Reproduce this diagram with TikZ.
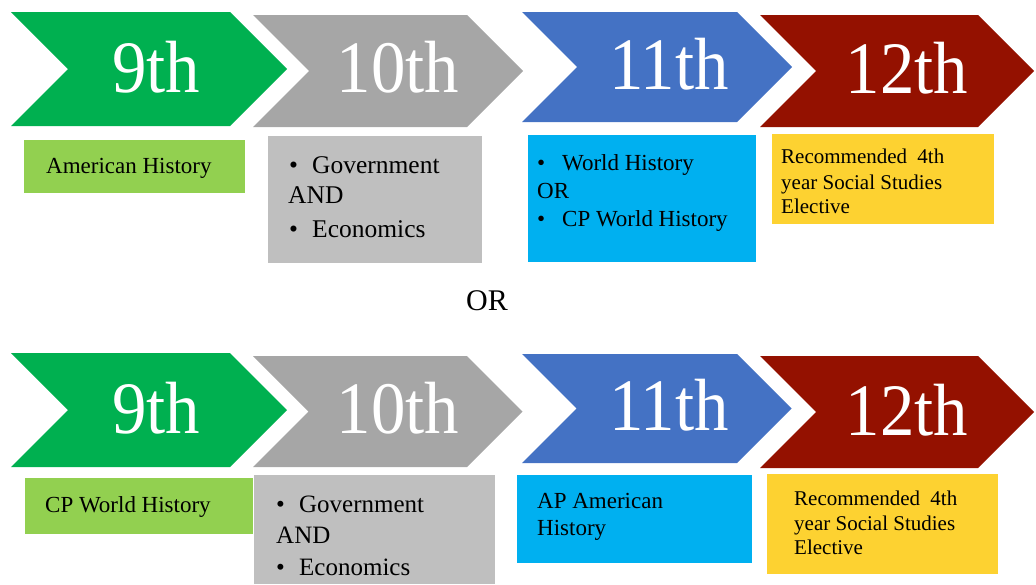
\documentclass[tikz,border=0pt]{standalone}
\usepackage{fontspec}
\setmainfont{Liberation Serif}
\newfontfamily\tms{Liberation Serif}
\definecolor{cgreen}{HTML}{00B050}
\definecolor{cgray}{HTML}{A6A6A6}
\definecolor{cblue}{HTML}{4472C4}
\definecolor{cred}{HTML}{941100}
\definecolor{bgreen}{HTML}{92D050}
\definecolor{bgray}{HTML}{BFBFBF}
\definecolor{bblue}{HTML}{00B0F0}
\definecolor{byellow}{HTML}{FDD231}
\newcommand{\chevron}[6]{% name, left, top, bottom, topright, colour
  \fill[#6] (#2,#3) -- (#5,#3) -- ({#5+(#4-#3)/2},{(#3+#4)/2}) -- (#5,#4) -- (#2,#4) -- ({#2+(#4-#3)/2},{(#3+#4)/2}) -- cycle;
}
\newcommand{\bul}{\makebox[23pt][l]{\textbullet}}
\tikzset{
  grade/.style={anchor=base, text=white, inner sep=0pt, font=\tms\fontsize{74}{74}\selectfont},
  boxtext/.style={anchor=base west, inner sep=0pt, text=black},
}
\begin{document}
\begin{tikzpicture}[x=1pt,y=-1pt]
\useasboundingbox (0,0) rectangle (1036,584);
% ---------- top row chevrons
\chevron{g1}{11}{12}{126}{230}{cgreen}
\chevron{g2}{253}{15}{127}{467}{cgray}
\chevron{g3}{522}{12}{122}{737}{cblue}
\chevron{g4}{760}{15}{127}{978}{cred}
\node[grade] (t9) at (156,92) {\scalebox{0.93}[1]{9th}};
\node[grade] (t10) at (398,92) {\scalebox{0.93}[1]{10th}};
\node[grade] (t11) at (669,89) {\scalebox{0.93}[1]{11th}};
\node[grade] (t12) at (907,93) {\scalebox{0.93}[1]{12th}};
% ---------- top row boxes
\fill[bgreen] (24,140) rectangle (245,193);
\fill[bgray] (268,136) rectangle (482,263);
\fill[bblue] (528,135) rectangle (756,262);
\fill[byellow] (772,134) rectangle (994,224);
\begin{scope}[every node/.style={boxtext, font=\tms\fontsize{23}{28}\selectfont}]
\node (a1) at (46,173) {American History};
\end{scope}
\begin{scope}[every node/.style={boxtext, font=\tms\fontsize{25.5}{30}\selectfont}]
\node (a2) at (289,173) {\bul Government};
\node (a3) at (288,203) {AND};
\node (a4) at (289,237) {\bul Economics};
\end{scope}
\begin{scope}[every node/.style={boxtext, font=\tms\fontsize{23}{28}\selectfont}]
\node (b1) at (537,170) {\makebox[25pt][l]{\textbullet}World History};
\node (b2) at (537,198) {OR};
\node (b3) at (537,226) {\makebox[25pt][l]{\textbullet}CP World History};
\end{scope}
\begin{scope}[every node/.style={boxtext, font=\tms\fontsize{21}{24}\selectfont}]
\node (c1) at (781,163) {Recommended\hspace{5pt} 4th};
\node (c2) at (781,189) {year Social Studies};
\node (c3) at (781,213) {Elective};
\end{scope}
% ---------- OR
\node[boxtext, font=\tms\fontsize{30}{34}\selectfont] (or) at (466,310) {OR};
% ---------- bottom row chevrons
\chevron{h1}{11}{353}{467}{230}{cgreen}
\chevron{h2}{253}{356}{467}{467}{cgray}
\chevron{h3}{522}{354}{463}{737}{cblue}
\chevron{h4}{760}{356}{468}{978}{cred}
\node[grade] (u9) at (156,433) {\scalebox{0.93}[1]{9th}};
\node[grade] (u10) at (398,433) {\scalebox{0.93}[1]{10th}};
\node[grade] (u11) at (669,430) {\scalebox{0.93}[1]{11th}};
\node[grade] (u12) at (907,435) {\scalebox{0.93}[1]{12th}};
% ---------- bottom row boxes
\fill[bgreen] (25,478) rectangle (253,534);
\fill[bgray] (254,475) rectangle (495,584);
\fill[bblue] (517,475) rectangle (752,563);
\fill[byellow] (767,474) rectangle (998,574);
\begin{scope}[every node/.style={boxtext, font=\tms\fontsize{23}{28}\selectfont}]
\node (d1) at (45,512) {CP World History};
\node (e1) at (537,508) {AP American};
\node (e2) at (537,535) {History};
\end{scope}
\begin{scope}[every node/.style={boxtext, font=\tms\fontsize{25}{30}\selectfont}]
\node (d2) at (276,512) {\bul Government};
\node (d3) at (276,543) {AND};
\node (d4) at (276,575) {\bul Economics};
\end{scope}
\begin{scope}[every node/.style={boxtext, font=\tms\fontsize{21}{24}\selectfont}]
\node (f1) at (794,505) {Recommended\hspace{5pt} 4th};
\node (f2) at (794,530) {year Social Studies};
\node (f3) at (794,554) {Elective};
\end{scope}
\end{tikzpicture}
\end{document}
